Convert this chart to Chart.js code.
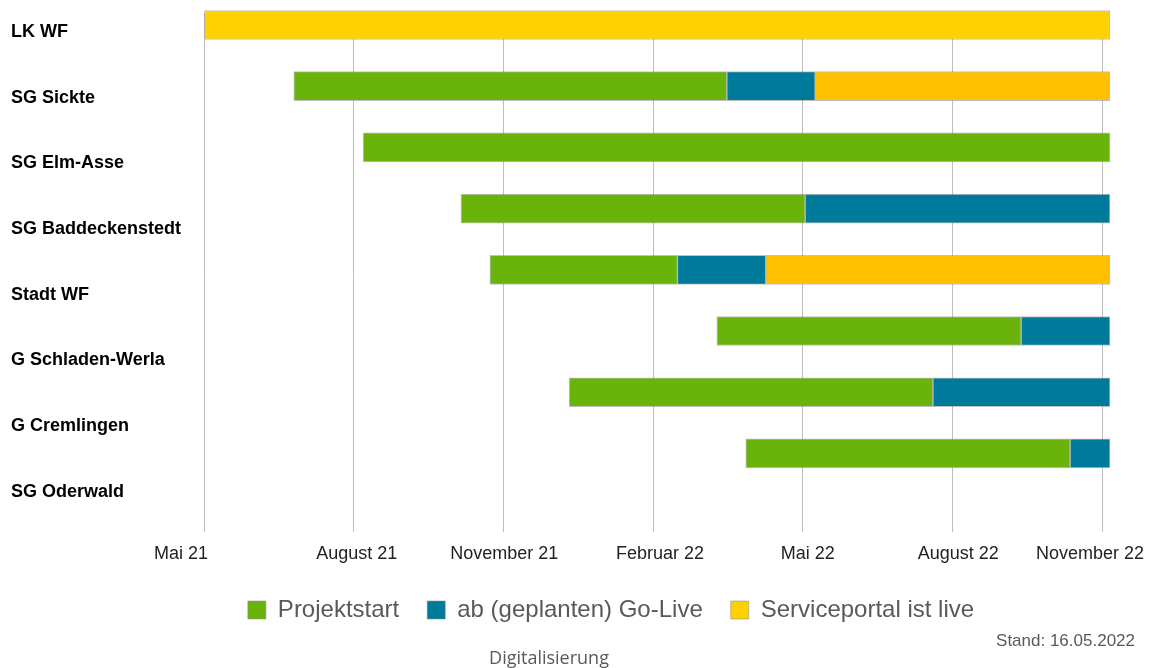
<!DOCTYPE html>
<html><head><meta charset="utf-8">
<script src="https://cdn.jsdelivr.net/npm/chart.js@4/dist/chart.umd.min.js"></script>
<style>html,body{margin:0;padding:0;background:#fff}#wrap{width:1150px;height:668px;position:relative}</style>
</head><body><div id="wrap"><canvas id="c" width="1150" height="668"></canvas></div>
<script>
// ---- data (months counted from Mai 21) ----
const categories = ['LK WF','SG Sickte','SG Elm-Asse','SG Baddeckenstedt','Stadt WF','G Schladen-Werla','G Cremlingen','SG Oderwald'];
const tickMonths = [0,3,6,9,12,15,18];
const tickLabels = ['Mai 21','August 21','November 21','Februar 22','Mai 22','August 22','November 22'];
const windowEnd = 18.16;
const seriesNames = ['Projektstart','ab (geplanten) Go-Live','Serviceportal ist live'];
const projektstart  = [null,[1.80,10.48],[3.19,18.16],[5.15,12.05],[5.73,9.49],[10.28,16.38],[7.32,14.61],[10.86,17.36]];
const goLive        = [null,[10.48,12.25],null,[12.05,18.16],[9.49,11.26],[16.38,18.16],[14.61,18.16],[17.36,18.16]];
const serviceportal = [[0,18.16],[12.25,18.16],null,null,[11.26,18.16],null,null,null];
const footerText = 'Digitalisierung';
const standText = 'Stand: 16.05.2022';

// ---- styles ----
const GREEN = '#6AB30B', BLUE = '#007A9A', ORANGE = '#FFC000', YELLOW = '#FFD100';
const FONT = "'Liberation Sans', Arial, sans-serif";
const SHIFT = {legendCenter: 611, titleCenter: 549, subtitleRight: 1135};
const tickLabelDx = [-23, 3, 1, 7, 5, 6, -12];

const toPoints = arr => arr.map((v,i) => v ? {x: v, y: i} : null).filter(Boolean);

const shiftPlugin = {
  id: 'shiftBoxes',
  afterLayout(chart) {
    chart.boxes.forEach(b => {
      if (b === chart.legend) {
        const d = SHIFT.legendCenter - (b.left + b.right) / 2; b.left += d; b.right += d;
      } else if (b.options && b.options.text === footerText) {
        const d = SHIFT.titleCenter - (b.left + b.right) / 2; b.left += d; b.right += d;
      } else if (b.options && b.options.text === standText) {
        const d = SHIFT.subtitleRight - b.right; b.left += d; b.right += d;
      }
    });
  },
  beforeDraw(chart) {
    const items = chart.scales.x.getLabelItems(chart.chartArea);
    items.forEach((it, i) => {
      if (!it._shifted) { it.options.translation[0] += (tickLabelDx[i] || 0); it._shifted = true; }
    });
  }
};

new Chart(document.getElementById('c'), {
  type: 'bar',
  data: {
    datasets: [
      {label: seriesNames[0], data: toPoints(projektstart), backgroundColor: GREEN},
      {label: seriesNames[1], data: toPoints(goLive), backgroundColor: BLUE},
      {label: seriesNames[2], data: toPoints(serviceportal),
       backgroundColor: ctx => (ctx.raw && ctx.raw.y === 0) ? YELLOW : ORANGE}
    ]
  },
  options: {
    indexAxis: 'y',
    responsive: false,
    animation: false,
    devicePixelRatio: 1,
    layout: {padding: {left: 11, right: 40, top: 13, bottom: 0}},
    datasets: {bar: {grouped: false, barThickness: 29, borderWidth: 1, clip: false,
      borderColor: 'rgba(140,140,140,0.55)', borderSkipped: false, yAxisID: 'y'}},
    scales: {
      x: {
        type: 'linear', position: 'bottom', min: 0, max: windowEnd, bounds: 'data', offset: false,
        grid: {color: '#BEBEBE', lineWidth: 1, drawTicks: false, offset: false},
        border: {display: false},
        ticks: {padding: 11, maxRotation: 0, autoSkip: false, color: '#222',
          font: {family: FONT, size: 18},
          callback: v => { const k = tickMonths.indexOf(v); return k >= 0 ? tickLabels[k] : ''; }},
        afterBuildTicks: s => { s.ticks = tickMonths.map(v => ({value: v})); },
        afterFit: s => { s.height = 38; s.paddingLeft = 0; s.paddingRight = 0; }
      },
      y: {type: 'linear', display: false, reverse: true, offset: false, grid: {offset: false},
          min: -0.196, max: 8.284, bounds: 'data'},
      yl: {
        type: 'linear', position: 'left', reverse: true, offset: false, min: -0.289, max: 7.611, bounds: 'data',
        grid: {display: false, offset: false}, border: {display: false},
        ticks: {crossAlign: 'far', padding: 0, autoSkip: false, color: '#000',
          font: {family: FONT, size: 18, weight: 'bold'},
          callback: v => categories[v] !== undefined ? categories[v] : ''},
        afterBuildTicks: s => { s.ticks = categories.map((_, i) => ({value: i})); },
        afterFit: s => { s.width = 193; s.paddingTop = 0; s.paddingBottom = 0; }
      }
    },
    plugins: {
      tooltip: {enabled: false},
      legend: {
        position: 'bottom',
        labels: {boxWidth: 18, boxHeight: 18, padding: 28, color: '#595959',
          font: {family: FONT, size: 24}}
      },
      subtitle: {
        display: true, text: standText, position: 'bottom', align: 'end',
        color: '#595959', font: {family: FONT, size: 17, weight: 'normal', lineHeight: 1},
        padding: {top: 0.5, bottom: 0.5}
      },
      title: {
        display: true, text: footerText, position: 'bottom', align: 'center',
        color: '#595959', font: {family: "'Open Sans', sans-serif", size: 18, weight: 'normal', lineHeight: 1},
        padding: 0
      }
    }
  },
  plugins: [shiftPlugin]
});
</script>
</body></html>
